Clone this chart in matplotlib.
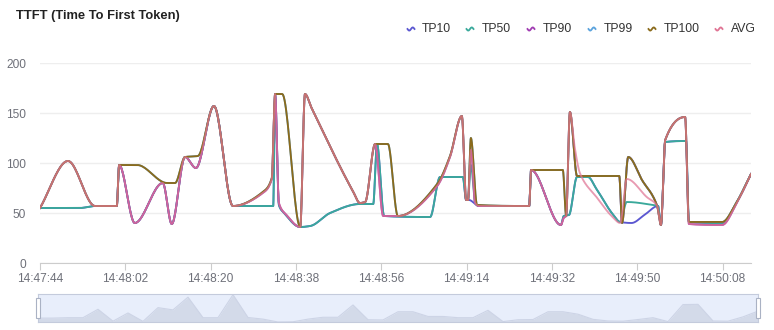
import numpy as np
import matplotlib
matplotlib.use('Agg')
import matplotlib.pyplot as plt
from matplotlib.lines import Line2D
from matplotlib.patches import Rectangle

W, H = 774, 330

# seconds after 14:47:44
tick_secs = [0, 18, 36, 54, 72, 90, 108, 126, 144]
tick_labels = ['14:47:44', '14:48:02', '14:48:20', '14:48:38', '14:48:56',
               '14:49:14', '14:49:32', '14:49:50', '14:50:08']

tp10_t = [0, 8.4, 11.6, 16.2, 16.7, 20.0, 25.9, 27.8, 30.6, 32.9, 36.7, 40.7, 49.2, 49.6,
          50.4, 51.5, 54.9, 57.0, 61.2, 67.5, 70.3, 71.1, 72.6, 82.3, 84.4, 89.2, 89.9, 90.5,
          92.6, 103.2, 103.6, 109.9, 110.5, 111.6, 113.3, 115.6, 117.4, 120.8, 122.4, 124.8,
          127.5, 130.4, 131.0, 131.9, 136.3, 136.9, 143.9, 147.0, 150.0]
tp10_v = [55, 55, 57, 57, 98, 40, 80, 39, 106, 95, 157, 57, 57, 169,
          58, 50, 36, 37, 50, 59, 59, 119, 47, 46, 86, 86, 63, 63,
          57, 57, 93, 38, 47, 48, 86, 86, 74, 49, 41, 40,
          48, 57, 38, 121, 122, 41, 40, 61, 89]

tp50_t = [0, 8.4, 11.6, 16.2, 16.7, 20.0, 25.9, 27.8, 30.6, 32.9, 36.7, 40.7, 49.2, 49.6,
          50.4, 51.5, 54.9, 57.0, 61.2, 67.5, 70.3, 71.1, 72.6, 82.3, 84.4, 89.2, 89.9, 90.3,
          90.9, 91.8, 92.6, 103.2, 103.6, 109.9, 110.5, 111.6, 113.3, 115.6, 117.4, 120.8,
          122.4, 123.8, 129.3, 130.4, 131.0, 131.9, 136.3, 136.9, 143.9, 147.0, 150.0]
tp50_v = [55, 55, 57, 57, 98, 40, 80, 39, 106, 95, 157, 57, 57, 169,
          58, 50, 36, 37, 50, 59, 59, 119, 47, 46, 86, 86, 63, 63,
          98, 60, 57, 57, 93, 38, 47, 48, 86, 86, 74, 49,
          41, 61, 58, 57, 38, 121, 122, 41, 40, 61, 89]

avg_t = [0, 5.9, 11.6, 16.2, 16.7, 20.0, 25.9, 27.8, 30.6, 32.9, 36.7, 40.7, 47.0, 48.9,
         49.6, 50.4, 52.0, 54.9, 55.9, 57.3, 66.0, 67.5, 68.6, 70.7, 72.4, 75.5, 83.8,
         86.5, 89.0, 89.9, 90.3, 90.9, 91.8, 92.6, 103.2, 103.6, 109.9, 110.5, 111.0, 111.8,
         112.8, 113.9, 117.4, 120.8, 122.4, 123.8, 128.0, 130.2, 131.0, 131.9, 136.1, 136.9,
         143.9, 147.0, 150.0]
avg_v = [55, 102, 57, 57, 98, 40, 80, 39, 106, 95, 157, 57, 70, 84,
         169, 60, 48, 36, 169, 155, 72, 60, 61, 119, 47, 47, 77,
         106, 147, 63, 63, 113, 60, 57, 57, 93, 38, 45, 47, 151,
         116, 90, 66, 46, 40, 84, 66, 57, 38, 123, 146, 39,
         38, 60, 89]

tp100_t = [0, 5.9, 11.6, 16.2, 16.7, 20.5, 26.8, 28.5, 30.6, 33.3, 36.7, 40.7, 47.0, 48.9,
           49.6, 51.1, 54.9, 55.9, 57.3, 66.0, 67.5, 68.6, 70.7, 73.4, 75.5, 83.8, 86.5,
           89.0, 89.9, 90.3, 90.9, 92.2, 103.2, 103.6, 110.3, 111.0, 111.8, 113.3, 122.2, 122.8,
           124.1, 127.0, 130.2, 131.0, 131.9, 136.1, 136.9, 143.9, 147.0, 150.0]
tp100_v = [55, 102, 57, 57, 98, 98, 80, 80, 106, 107, 157, 57, 71, 85,
           169, 169, 36, 169, 155, 72, 60, 61, 119, 119, 47, 79, 107,
           147, 63, 63, 125, 58, 57, 93, 93, 47, 151, 87, 87, 40,
           106, 83, 57, 38, 123, 146, 41, 41, 61, 89]

# TP90 follows AVG except between the two spikes near 14:49:50
tp90_t = avg_t[:40] + [113.3, 122.2, 122.8, 124.1, 127.0, 130.2] + avg_t[48:]
tp90_v = avg_v[:40] + [87, 87, 40, 106, 83, 57] + avg_v[48:]
tp99_t = tp100_t
tp99_v = tp100_v

names = ['TP10', 'TP50', 'TP90', 'TP99', 'TP100', 'AVG']
colors = ['#5b57d1', '#3aa99b', '#a03cb2', '#5ba3dd', '#8b6b1c', '#e07494']


def smooth(t, v, n=24):
    t = np.asarray(t, float)
    v = np.asarray(v, float)
    h = np.diff(t)
    d = np.diff(v) / h
    m = np.zeros_like(v)
    for k in range(1, len(v) - 1):
        if d[k - 1] * d[k] > 0:
            w1 = 2 * h[k] + h[k - 1]
            w2 = h[k] + 2 * h[k - 1]
            m[k] = (w1 + w2) / (w1 / d[k - 1] + w2 / d[k])
    m[0] = d[0]
    m[-1] = d[-1]
    xs, ys = [], []
    s = np.linspace(0, 1, n)
    for k in range(len(h)):
        h00 = 2 * s**3 - 3 * s**2 + 1
        h10 = s**3 - 2 * s**2 + s
        h01 = -2 * s**3 + 3 * s**2
        h11 = s**3 - s**2
        xs.append(t[k] + s * h[k])
        ys.append(h00 * v[k] + h10 * h[k] * m[k] + h01 * v[k + 1] + h11 * h[k] * m[k + 1])
    return np.concatenate(xs), np.concatenate(ys)


plt.rcParams['font.family'] = ['Liberation Sans', 'DejaVu Sans']
fig = plt.figure(figsize=(W / 100, H / 100), dpi=100)


def fx(x):
    return x / W


def fy(y):
    return 1 - y / H


ax = fig.add_axes([fx(40), fy(263), (751 - 40) / W, (263 - 63) / H])
series = [(tp10_t, tp10_v), (tp50_t, tp50_v), (tp90_t, tp90_v),
          (tp99_t, tp99_v), (tp100_t, tp100_v), (avg_t, avg_v)]
alphas = [1, 1, 1, 1, 1, 0.72]
for (t, v), c, a in zip(series, colors, alphas):
    xs, ys = smooth(t, v)
    ax.plot(xs, ys, color=c, lw=1.35, alpha=a, solid_joinstyle='round', zorder=3)

ax.set_xlim(0, 150)
ax.set_ylim(0, 200)
ax.set_yticks([0, 50, 100, 150, 200])
ax.set_xticks(tick_secs)
ax.set_xticklabels(tick_labels)
ax.grid(axis='y', color='#eeeeee', lw=1)
ax.set_axisbelow(True)
for s in ['top', 'right', 'left']:
    ax.spines[s].set_visible(False)
ax.spines['bottom'].set_color('#cccccc')
ax.tick_params(axis='y', length=0, pad=10, labelsize=8.6, labelcolor='#6e7079')
ax.tick_params(axis='x', length=5, color='#cccccc', pad=2, labelsize=8.6, labelcolor='#6e7079')

fig.text(fx(16), fy(16), 'TTFT (Time To First Token)', fontsize=9.3, fontweight='bold',
         color='#222222', va='center', ha='left')

icon_x = [411, 470, 531, 592, 652, 719]
text_x = [422, 482, 543, 604, 664, 731]
ly = 29
for nm, c, ix, tx in zip(names, colors, icon_x, text_x):
    wx = np.linspace(-3.5, 3.5, 12)
    wy = 1.6 * np.sin(wx / 3.5 * np.pi)
    fig.add_artist(Line2D(fx(ix + wx), fy(ly - wy), color=c, lw=1.3,
                          transform=fig.transFigure))
    fig.text(fx(tx), fy(ly), nm, fontsize=8.8, color='#333333', va='center', ha='left')

# data zoom slider
sax = fig.add_axes([fx(38), fy(322), 720 / W, 28 / H])
sv = np.asarray(tp10_v, float)
si = np.arange(len(sv))
sax.set_xlim(0, len(sv) - 1)
sax.set_ylim(sv.min(), sv.max() * 1.02)
sax.fill_between(si, sv, sv.min(), color='#d3dae9', lw=0)
sax.plot(si, sv, color='#cdd4e6', lw=0.8)
sax.set_facecolor('#e8eefb')
for s in sax.spines.values():
    s.set_color('#c4cbdc')
sax.set_xticks([])
sax.set_yticks([])
for hx in [38, 758]:
    fig.add_artist(Rectangle((fx(hx - 2), fy(318)), 4 / W, 20 / H, transform=fig.transFigure,
                             facecolor='white', edgecolor='#aab2c4', lw=0.8))

fig.savefig('out.png', dpi=100)
